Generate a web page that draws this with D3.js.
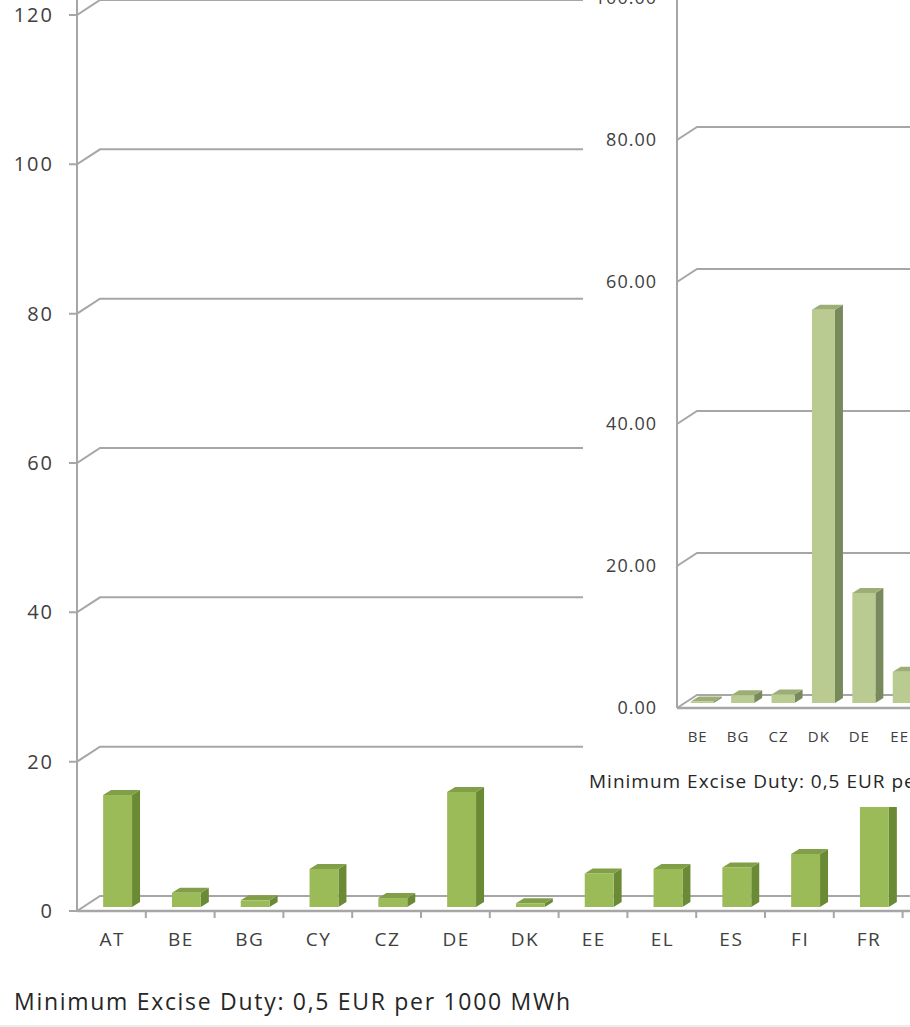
<!DOCTYPE html>
<html><head><meta charset="utf-8">
<script src="https://cdn.jsdelivr.net/npm/d3@7"></script>
<style>
html,body{margin:0;padding:0;background:#fff;}
svg{display:block;}
text{font-family:"Open Sans",sans-serif;}
</style></head>
<body><svg id="c" width="910" height="1027"></svg>
<script>
// ---- data ----
const mainCategories = ["AT","BE","BG","CY","CZ","DE","DK","EE","EL","ES","FI","FR"];
const mainValues     = [15.0, 1.9, 0.9, 5.1, 1.2, 15.4, 0.5, 4.5, 5.1, 5.3, 7.1, 22.5];
const mainTicks      = [0,20,40,60,80,100,120];
const mainCaption    = "Minimum Excise Duty: 0,5 EUR per 1000 MWh";

const insetCategories = ["BE","BG","CZ","DK","DE","EE"];
const insetValues     = [0.2, 1.1, 1.2, 55.4, 15.5, 4.4];
const insetTicks      = [0,20,40,60,80,100];
const insetCaption    = "Minimum Excise Duty: 0,5 EUR per 1000 MWh";

const svg = d3.select("#c");
const W = 910, H = 1027;

function draw3DChart(g, cfg){
  const {cats, vals, ticks, x, y, ax, right, depth, barDepth, baseLift, barLeft, barW, colors, fmt,
         yFont, xFont, yPad, xPad, yTick, catTicks, gridColor, ySpace, xSpace} = cfg;
  ticks.forEach(t=>{
    const yy = y(t);
    const p = d3.path();
    p.moveTo(ax - yTick, yy); p.lineTo(ax, yy);
    p.lineTo(ax + depth[0], yy + depth[1]); p.lineTo(right, yy + depth[1]);
    g.append("path").attr("d", p.toString()).attr("fill","none")
      .attr("stroke", gridColor).attr("stroke-width", 2);
  });
  g.append("line").attr("x1",ax).attr("x2",ax).attr("y1",y(0)).attr("y2",y(ticks[ticks.length-1]) - 40)
    .attr("stroke",gridColor).attr("stroke-width",2);
  g.append("line").attr("x1",ax).attr("x2",right).attr("y1",y(0)).attr("y2",y(0))
    .attr("stroke",gridColor).attr("stroke-width",2.5);
  if (catTicks){
    const bounds = cats.map(c=>x(c)).concat([x(cats[cats.length-1]) + x.bandwidth()]).slice(1);
    g.selectAll(".ct").data(bounds).join("line")
      .attr("x1",d=>d).attr("x2",d=>d).attr("y1",y(0)).attr("y2",y(0)+7)
      .attr("stroke",gridColor).attr("stroke-width",2);
  }
  const yAxis = d3.axisLeft(y).tickValues(ticks).tickSize(0).tickPadding(yPad - ySpace).tickFormat(fmt);
  const ya = g.append("g").attr("transform",`translate(${ax},0)`).call(yAxis);
  ya.select(".domain").remove();
  ya.selectAll("text").attr("font-size",yFont).attr("fill","#404040")
    .attr("font-family","'Open Sans',sans-serif").attr("letter-spacing", ySpace);
  const xAxis = d3.axisBottom(x).tickSize(0).tickPadding(xPad);
  const xa = g.append("g").attr("transform",`translate(0,${y(0)})`).call(xAxis);
  xa.select(".domain").remove();
  xa.selectAll("text").attr("font-size",xFont).attr("fill","#404040")
    .attr("font-family","'Open Sans',sans-serif").attr("letter-spacing", xSpace)
    .attr("dx", xSpace/2);
  const bw = x.bandwidth();
  const data = cats.map((c,i)=>({c, v: vals[i]}));
  const bars = g.selectAll(".bar").data(data).join("g");
  const [dx, dy] = barDepth;
  bars.each(function(d){
    const b = d3.select(this);
    const x0 = x(d.c) + bw*barLeft, x1 = x0 + bw*barW;
    const yb = y(0) - baseLift, yt = y(d.v) - baseLift;
    b.append("path").attr("d", `M${x1},${yb}L${x1+dx},${yb+dy}L${x1+dx},${yt+dy}L${x1},${yt}Z`)
      .attr("fill", colors.side);
    b.append("path").attr("d", `M${x0},${yt}L${x0+dx},${yt+dy}L${x1+dx},${yt+dy}L${x1},${yt}Z`)
      .attr("fill", colors.top);
    b.append("rect").attr("x",x0).attr("y",yt).attr("width",x1-x0).attr("height",Math.max(0,yb-yt))
      .attr("fill", colors.front);
  });
}

// ---- main chart ----
const mainBand = 68.8;
const mx = d3.scaleBand().domain(mainCategories).range([77, 77 + mainCategories.length*mainBand]).padding(0);
const my = d3.scaleLinear().domain([0,120]).range([911, 15]);
const gMain = svg.append("g");
draw3DChart(gMain, {
  cats: mainCategories, vals: mainValues, ticks: mainTicks, x: mx, y: my, ax: 77, right: 915,
  depth: [23,-15], barDepth: [8,-5], baseLift: 4, barLeft: 0.38, barW: 0.42,
  colors: {front:"#9bbb59", side:"#6b8a36", top:"#809f48"}, fmt: d3.format("d"),
  yFont: 20, xFont: 19, yPad: 25, xPad: 22, yTick: 8, catTicks: true, gridColor:"#a6a6a6",
  ySpace: 2, xSpace: 1.5
});
svg.append("text").attr("x",14).attr("y",1010).attr("font-size",23).attr("letter-spacing",1.7)
  .attr("fill","#262626").text(mainCaption);
svg.append("line").attr("x1",0).attr("x2",W).attr("y1",1026).attr("y2",1026).attr("stroke","#ececec").attr("stroke-width",2);

// ---- inset chart ----
const gIn = svg.append("g");
gIn.append("rect").attr("x",583).attr("y",0).attr("width",W-583).attr("height",807).attr("fill","#fff");
const iBand = 40.4;
const ix = d3.scaleBand().domain(insetCategories).range([677, 677 + insetCategories.length*iBand]).padding(0);
const iy = d3.scaleLinear().domain([0,100]).range([708, -2]);
const gInC = gIn.append("g");
gInC.attr("clip-path","url(#insetClip)");
svg.append("defs").append("clipPath").attr("id","insetClip").append("rect")
  .attr("x",583).attr("y",0).attr("width",W-583).attr("height",807);
draw3DChart(gInC, {
  cats: insetCategories, vals: insetValues, ticks: insetTicks, x: ix, y: iy, ax: 677, right: 915,
  depth: [20,-13], barDepth: [8,-5], baseLift: 5, barLeft: 0.34, barW: 0.57,
  colors: {front:"#bacb92", side:"#788a5c", top:"#9cae76"}, fmt: d3.format(".2f"),
  yFont: 18, xFont: 15, yPad: 21, xPad: 23, yTick: 0, catTicks: false, gridColor:"#a6a6a6",
  ySpace: 1, xSpace: 1
});
gInC.append("text").attr("x",589).attr("y",788).attr("font-size",19).attr("letter-spacing",1)
  .attr("fill","#262626").text(insetCaption);
</script></body></html>
